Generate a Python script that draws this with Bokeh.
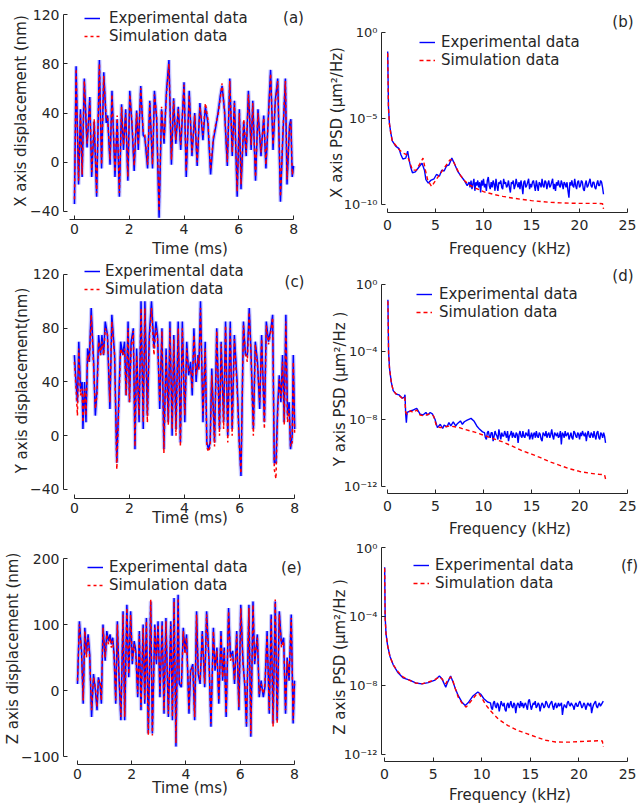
from bokeh.plotting import figure
from bokeh.layouts import row, column
from bokeh.models import Range1d, FixedTicker, Legend, LegendItem, Label, CustomJSTickFormatter
from bokeh.embed import file_html
from bokeh.resources import INLINE

# ---------------- time-domain data (ms, nm) ----------------
t_x = [0.0,0.06,0.15,0.22,0.28,0.36,0.46,0.56,0.63,0.72,0.81,0.91,0.99,1.07,1.16,1.21,1.30,1.37,1.48,1.56,
       1.64,1.72,1.79,1.87,1.95,2.02,2.10,2.18,2.27,2.33,2.42,2.51,2.57,2.67,2.75,2.85,2.92,3.00,3.09,3.18,
       3.27,3.36,3.45,3.54,3.62,3.70,3.79,3.88,4.00,4.08,4.19,4.29,4.39,4.48,4.58,4.69,4.78,4.87,4.97,5.07,
       5.15,5.24,5.33,5.39,5.48,5.58,5.67,5.76,5.84,5.94,6.02,6.08,6.18,6.27,6.35,6.45,6.51,6.61,6.70,6.81,
       6.91,6.99,7.09,7.16,7.25,7.33,7.42,7.52,7.61,7.70,7.76,7.85,7.90,7.95,8.0]
x_exp = [-34,78,-18,43,-12,68,12,53,-12,33,-28,83,-5,73,32,38,-2,58,-12,35,-28,47,10,43,-15,58,30,-7,42,10,
         62,22,20,-5,50,-5,58,35,-45,43,15,58,83,-2,52,15,45,10,65,-12,58,5,40,-3,48,18,45,32,-10,18,
         28,40,55,62,42,-3,68,5,50,-28,43,-22,33,5,58,10,50,-15,43,5,38,-5,43,75,10,50,68,-32,22,68,
         -18,30,35,-12,-3]
x_sim = [-30,76,-15,40,-10,66,15,50,-8,35,-25,80,-2,70,35,36,2,55,-8,38,-25,45,14,40,-12,55,33,-3,40,14,
         60,25,22,-2,48,-2,55,38,-40,45,18,55,80,2,50,18,43,14,63,-8,55,8,38,0,45,22,48,35,-6,20,
         30,38,53,64,40,0,66,8,48,-24,40,-18,35,8,55,14,48,-12,40,8,36,-2,40,72,14,48,66,-28,25,66,
         -14,28,33,-10,-5]

t_y = [0.0,0.06,0.11,0.16,0.22,0.28,0.31,0.37,0.42,0.48,0.54,0.61,0.70,0.76,0.82,0.88,0.95,1.00,1.06,1.12,
       1.20,1.29,1.36,1.46,1.54,1.60,1.68,1.76,1.82,1.88,1.95,2.00,2.06,2.14,2.20,2.26,2.35,2.42,2.50,2.56,
       2.65,2.72,2.80,2.89,2.96,3.02,3.10,3.18,3.25,3.33,3.41,3.47,3.55,3.61,3.69,3.77,3.85,3.92,4.01,4.08,
       4.15,4.22,4.28,4.34,4.42,4.49,4.52,4.58,4.67,4.75,4.81,4.87,4.93,4.99,5.09,5.17,5.27,5.33,5.42,5.49,
       5.57,5.66,5.73,5.81,5.91,5.99,6.05,6.14,6.21,6.28,6.35,6.41,6.50,6.57,6.65,6.73,6.80,6.90,6.97,7.05,
       7.14,7.20,7.26,7.32,7.38,7.44,7.50,7.56,7.62,7.68,7.74,7.80,7.85,7.91,7.95,8.0]
y_exp = [60,40,25,70,35,40,5,40,10,65,55,95,55,15,35,75,60,75,60,85,75,20,90,60,-20,20,70,60,70,30,
         85,25,70,80,-10,65,10,100,5,100,15,75,100,65,85,75,20,80,-10,65,10,85,0,75,5,85,-5,85,10,70,
         45,55,30,80,40,60,50,100,10,70,-5,-10,-5,50,-5,80,5,70,10,85,0,85,5,75,40,-5,-30,85,60,60,
         95,65,5,70,55,20,75,10,85,70,80,90,-20,-20,20,45,25,60,10,90,15,25,-10,0,60,5]
y_sim = [55,35,15,65,30,35,10,35,15,60,55,90,50,20,30,70,60,70,60,80,75,25,85,60,-25,15,65,60,65,30,
         80,25,65,78,-8,60,15,95,10,95,10,70,95,60,80,72,25,78,-13,60,8,80,5,72,0,80,-8,80,15,65,
         48,50,35,75,45,58,48,95,15,65,-8,-12,-8,45,-8,78,0,68,5,82,-5,80,0,72,35,-8,-28,82,62,55,
         92,62,0,68,52,25,72,5,82,68,78,88,-25,-32,15,42,28,55,8,85,10,20,-8,-5,55,0]

t_z = [0.0,0.07,0.15,0.21,0.27,0.33,0.39,0.45,0.52,0.59,0.66,0.72,0.77,0.83,0.88,0.94,1.02,1.08,1.14,1.20,
       1.25,1.30,1.35,1.41,1.47,1.53,1.60,1.68,1.74,1.82,1.89,1.96,2.02,2.09,2.15,2.22,2.28,2.34,2.42,2.48,
       2.54,2.61,2.70,2.76,2.85,2.91,2.97,3.04,3.12,3.19,3.26,3.35,3.44,3.50,3.56,3.63,3.71,3.75,3.83,3.90,
       3.96,4.02,4.11,4.17,4.25,4.32,4.39,4.45,4.52,4.60,4.69,4.76,4.85,4.92,5.01,5.07,5.14,5.21,5.29,5.35,
       5.41,5.48,5.57,5.64,5.72,5.79,5.87,5.95,6.02,6.10,6.17,6.23,6.32,6.39,6.47,6.53,6.63,6.70,6.77,6.85,
       6.91,6.99,7.07,7.14,7.21,7.29,7.36,7.44,7.52,7.60,7.67,7.73,7.80,7.88,7.95,8.0]
z_exp = [10,105,60,-20,95,55,85,55,-40,25,0,-30,20,10,-20,100,45,90,75,85,70,80,55,-20,105,20,-45,120,-45,130,
         20,120,40,75,60,-10,90,-30,100,-20,110,-65,135,-65,100,40,105,-10,105,-35,110,-40,105,-45,140,-85,145,10,5,95,
         60,85,-35,30,40,-45,120,25,10,90,5,120,45,-55,95,30,65,-20,90,15,65,-40,125,50,60,10,90,-30,130,45,
         5,-55,130,-70,135,40,85,-10,15,-10,5,90,-35,115,-50,135,-45,120,70,80,-35,50,15,115,-50,15]
z_sim = [15,100,55,-15,90,50,80,50,-30,20,5,-25,15,15,-15,95,50,85,70,80,65,75,50,-15,100,25,-40,115,-40,125,
         25,115,45,70,55,-5,85,-25,95,-15,105,-68,138,-68,95,45,100,-5,100,-30,105,-35,100,-40,135,-80,140,15,10,90,
         55,80,-30,35,35,-40,115,30,15,85,10,115,40,-50,90,35,60,-15,85,20,60,-35,120,45,55,15,85,-25,125,40,
         10,-50,125,-65,130,45,80,-5,10,-5,10,85,-30,110,-55,138,-50,115,65,75,-30,45,20,110,-45,10]

# ---------------- PSD data (kHz, log10 of um^2/Hz) ----------------
fx_exp = [0.02,0.1,0.2,0.35,0.5,0.85,1.2,1.4,1.6,1.9,2.1,2.25,2.4,2.6,2.9,3.3,3.6,3.85,4.0,4.25,
          4.5,4.85,5.1,5.4,5.65,5.9,6.15,6.4,6.7,6.95,7.3,7.6,8.0,8.3,
          8.5,8.6,8.7,8.8,8.9,9.0,9.1,9.2,9.3,9.4,
          9.5,9.6,9.7,9.8,9.9,10.0,10.1,10.2,10.3,10.4,
          10.5,10.6,10.7,10.8,10.9,11.0,11.1,11.2,11.3,11.4,
          11.5,11.6,11.7,11.8,11.9,12.0,12.1,12.2,12.3,12.4,
          12.5,12.6,12.7,12.8,12.9,13.0,13.1,13.2,13.3,13.4,
          13.5,13.6,13.7,13.8,13.9,14.0,14.1,14.2,14.3,14.4,
          14.5,14.6,14.7,14.8,14.9,15.0,15.1,15.2,15.3,15.4,
          15.5,15.6,15.7,15.8,15.9,16.0,16.1,16.2,16.3,16.4,
          16.5,16.6,16.7,16.8,16.9,17.0,17.1,17.2,17.3,17.4,
          17.5,17.6,17.7,17.8,17.9,18.0,18.1,18.2,18.3,18.4,
          18.5,18.6,18.7,18.8,18.9,19.0,19.1,19.2,19.3,19.4,
          19.5,19.6,19.7,19.8,19.9,20.0,20.1,20.2,20.3,20.4,
          20.5,20.6,20.7,20.8,20.9,21.0,21.1,21.2,21.3,21.4,
          21.5,21.6,21.7,21.8,21.9,22.0,22.1,22.2,22.3,22.4,
          22.5]
lx_exp = [-1.1,-4.3,-5.3,-5.85,-6.3,-6.6,-6.75,-7.1,-7.35,-7.3,-6.9,-7.4,-7.8,-8.15,-8.1,-7.8,-7.6,-8.0,-8.55,-8.75,
          -8.6,-8.5,-8.25,-8.35,-8.0,-8.05,-7.75,-7.7,-7.3,-7.6,-8.05,-8.3,-8.6,-8.9,
          -8.7,-9.0,-8.6,-9.1,-8.8,-8.5,-9.2,-8.7,-8.9,-8.6,
          -9.0,-8.7,-9.3,-8.6,-8.9,-8.5,-9.0,-8.8,-9.2,-8.6,
          -8.4,-8.9,-9.1,-8.7,-9.0,-8.6,-8.8,-9.2,-8.5,-8.9,
          -9.2,-8.7,-8.8,-8.6,-9.0,-9.1,-8.5,-8.8,-8.7,-9.0,
          -8.9,-8.6,-9.0,-9.3,-8.7,-8.8,-8.6,-9.1,-8.9,-8.5,
          -8.8,-9.0,-8.7,-9.1,-8.6,-8.9,-9.4,-8.7,-8.6,-9.0,
          -8.9,-8.7,-8.5,-9.1,-8.8,-9.0,-8.7,-8.6,-8.9,-9.2,
          -8.6,-8.9,-9.2,-8.7,-8.8,-9.0,-8.5,-8.9,-9.0,-8.6,
          -8.7,-9.1,-8.8,-8.6,-9.0,-8.9,-8.7,-8.5,-9.1,-8.8,
          -9.2,-8.7,-8.9,-8.6,-8.9,-9.0,-8.6,-8.8,-9.1,-8.7,
          -8.8,-9.0,-8.7,-9.2,-9.6,-8.7,-8.9,-8.6,-8.9,-9.0,
          -8.5,-8.9,-9.1,-8.7,-8.6,-9.0,-8.9,-8.6,-8.7,-9.1,
          -9.2,-8.8,-8.6,-9.0,-8.9,-8.7,-8.5,-8.9,-9.0,-8.7,
          -8.7,-9.0,-9.1,-8.8,-8.6,-8.9,-8.9,-8.6,-8.7,-9.0,
          -9.4]
fx_sim = [0.02,0.1,0.2,0.35,0.5,0.85,1.2,1.6,2.0,2.3,2.6,3.0,3.4,3.7,3.95,4.2,4.6,5.0,5.5,6.0,
          6.5,6.8,7.2,7.6,8.0,8.5,9.0,10.0,11.0,12.0,13.0,14.0,15.0,16.0,17.0,18.0,19.0,20.0,21.0,22.0,22.4,22.5]
lx_sim = [-1.2,-4.4,-5.3,-5.9,-6.3,-6.55,-6.8,-7.0,-7.1,-7.5,-8.0,-8.0,-7.6,-7.3,-8.0,-8.6,-8.95,-8.6,-8.2,-7.8,
          -7.4,-7.4,-7.9,-8.3,-8.6,-8.85,-9.0,-9.25,-9.4,-9.52,-9.62,-9.7,-9.77,-9.82,-9.87,-9.9,-9.92,-9.93,-9.93,-9.93,-9.95,-10.25]

fy_exp = [0.05,0.12,0.22,0.4,0.6,0.9,1.2,1.55,1.75,1.83,1.9,1.97,2.05,2.4,2.7,3.05,3.4,3.7,4.0,4.2,
          4.45,4.7,4.95,5.2,5.5,5.75,5.9,6.2,6.4,6.6,6.85,7.1,7.3,7.6,7.8,8.0,8.3,8.7,9.0,9.3,9.6,9.9,
          10.1,10.2,10.3,10.4,10.5,10.6,10.7,10.8,10.9,11.0,
          11.1,11.2,11.3,11.4,11.5,11.6,11.7,11.8,11.9,12.0,
          12.1,12.2,12.3,12.4,12.5,12.6,12.7,12.8,12.9,13.0,
          13.1,13.2,13.3,13.4,13.5,13.6,13.7,13.8,13.9,14.0,
          14.1,14.2,14.3,14.4,14.5,14.6,14.7,14.8,14.9,15.0,
          15.1,15.2,15.3,15.4,15.5,15.6,15.7,15.8,15.9,16.0,
          16.1,16.2,16.3,16.4,16.5,16.6,16.7,16.8,16.9,17.0,
          17.1,17.2,17.3,17.4,17.5,17.6,17.7,17.8,17.9,18.0,
          18.1,18.2,18.3,18.4,18.5,18.6,18.7,18.8,18.9,19.0,
          19.1,19.2,19.3,19.4,19.5,19.6,19.7,19.8,19.9,20.0,
          20.1,20.2,20.3,20.4,20.5,20.6,20.7,20.8,20.9,21.0,
          21.1,21.2,21.3,21.4,21.5,21.6,21.7,21.8,21.9,22.0,
          22.1,22.2,22.3,22.4,22.5,22.6,22.7]
ly_exp = [-0.9,-4.0,-5.0,-5.8,-6.3,-6.5,-6.55,-6.75,-6.7,-6.55,-7.7,-8.2,-7.6,-7.5,-7.45,-7.35,-7.7,-7.75,-7.6,-7.75,
          -7.6,-7.7,-8.0,-8.5,-8.3,-8.55,-8.35,-8.45,-8.2,-8.4,-8.15,-8.4,-8.25,-8.1,-8.3,-8.15,-8.05,-7.95,-8.1,-8.4,-8.6,-8.75,
          -8.8,-9.1,-9.2,-8.8,-8.7,-9.0,-9.1,-8.8,-8.8,-9.3,
          -9.0,-8.7,-8.9,-9.0,-9.2,-8.6,-8.9,-9.2,-8.8,-9.0,
          -9.0,-8.7,-8.9,-9.1,-8.7,-9.3,-9.0,-8.9,-8.7,-9.1,
          -8.8,-9.0,-9.1,-8.8,-8.9,-9.4,-8.9,-8.7,-9.0,-9.1,
          -8.7,-9.0,-9.1,-8.8,-8.9,-9.0,-8.6,-9.2,-9.0,-8.8,
          -9.2,-8.9,-8.8,-9.1,-8.7,-9.0,-9.1,-8.8,-8.9,-9.2,
          -9.3,-8.8,-8.9,-9.0,-8.7,-9.1,-8.9,-8.8,-9.1,-8.9,
          -8.6,-9.0,-9.2,-8.8,-8.9,-9.0,-8.8,-9.1,-9.0,-8.7,
          -9.5,-8.8,-8.9,-9.1,-8.7,-9.0,-8.9,-8.8,-9.2,-9.0,
          -8.8,-9.1,-9.2,-8.7,-8.8,-9.0,-9.1,-8.8,-8.9,-9.2,
          -8.8,-9.0,-8.7,-8.9,-9.0,-8.8,-9.3,-8.9,-8.7,-9.0,
          -9.1,-8.8,-8.9,-9.1,-8.7,-9.0,-9.2,-8.8,-8.7,-9.1,
          -9.2,-8.8,-8.9,-9.1,-8.8,-9.0,-9.4]
fy_sim = [0.05,0.12,0.22,0.4,0.6,0.9,1.2,1.55,1.8,1.9,2.05,2.4,2.7,3.05,3.4,3.8,4.3,4.8,5.1,5.5,
          6.0,6.5,7.0,7.5,8.0,9.0,10.0,11.0,12.0,13.0,14.0,15.0,16.0,17.0,18.0,19.0,20.0,21.0,22.0,22.6,22.7]
ly_sim = [-1.0,-4.1,-5.0,-5.8,-6.3,-6.5,-6.6,-6.75,-6.65,-7.6,-7.7,-7.5,-7.6,-7.45,-7.75,-7.8,-7.7,-7.8,-8.4,-8.5,
          -8.45,-8.4,-8.45,-8.5,-8.6,-8.75,-8.95,-9.15,-9.35,-9.6,-9.87,-10.07,-10.3,-10.55,-10.75,-10.95,-11.1,-11.2,-11.27,-11.3,-11.55]

fz_exp = [0.02,0.07,0.16,0.33,0.56,0.9,1.4,1.9,2.6,3.2,3.85,4.5,5.2,5.65,5.9,6.3,6.5,6.8,7.05,7.3,
          7.6,7.95,8.3,8.6,9.1,9.6,9.9,10.2,10.6,
          10.9,11.0,11.1,11.2,11.3,11.4,11.5,11.6,11.7,11.8,
          11.9,12.0,12.1,12.2,12.3,12.4,12.5,12.6,12.7,12.8,
          12.9,13.0,13.1,13.2,13.3,13.4,13.5,13.6,13.7,13.8,
          13.9,14.0,14.1,14.2,14.3,14.4,14.5,14.6,14.7,14.8,
          14.9,15.0,15.1,15.2,15.3,15.4,15.5,15.6,15.7,15.8,
          15.9,16.0,16.1,16.2,16.3,16.4,16.5,16.6,16.7,16.8,
          16.9,17.0,17.1,17.2,17.3,17.4,17.5,17.6,17.7,17.8,
          17.9,18.0,18.1,18.2,18.3,18.4,18.5,18.6,18.7,18.8,
          18.9,19.0,19.1,19.2,19.3,19.4,19.5,19.6,19.7,19.8,
          19.9,20.0,20.1,20.2,20.3,20.4,20.5,20.6,20.7,20.8,
          20.9,21.0,21.1,21.2,21.3,21.4,21.5,21.6,21.7,21.8,
          21.9,22.0,22.1,22.2,22.3,22.4,22.5]
lz_exp = [-1.15,-4.0,-5.0,-5.7,-6.3,-6.8,-7.26,-7.55,-7.68,-7.85,-7.9,-7.83,-7.68,-7.45,-7.6,-8.1,-7.8,-7.45,-7.8,-8.2,
          -8.6,-8.95,-9.15,-9.0,-8.6,-8.37,-8.5,-8.75,-8.95,
          -9.0,-9.3,-9.4,-9.0,-8.9,-9.2,-9.3,-9.0,-9.1,-9.5,
          -9.2,-8.9,-9.1,-9.2,-9.0,-9.4,-9.5,-9.1,-9.0,-9.3,
          -9.1,-8.9,-9.2,-9.3,-9.0,-9.1,-9.6,-9.2,-9.0,-9.1,
          -9.3,-8.9,-9.2,-9.0,-9.3,-9.1,-9.0,-9.2,-9.4,-8.9,
          -8.8,-9.1,-9.4,-9.2,-9.0,-9.1,-8.9,-9.3,-9.2,-9.0,
          -9.1,-9.5,-9.2,-9.0,-9.1,-9.3,-9.2,-8.9,-9.0,-9.2,
          -9.3,-9.1,-9.0,-8.9,-9.2,-9.4,-9.1,-9.0,-9.3,-9.2,
          -9.0,-9.2,-9.1,-9.0,-9.7,-9.3,-9.1,-9.2,-9.3,-9.0,
          -8.9,-9.1,-9.2,-9.0,-9.1,-9.2,-9.4,-9.1,-9.0,-9.2,
          -9.2,-9.0,-8.9,-9.1,-9.3,-9.2,-9.0,-9.1,-9.4,-9.2,
          -9.0,-9.1,-9.2,-9.0,-9.6,-9.3,-9.1,-9.0,-8.9,-9.2,
          -9.3,-9.1,-9.0,-9.2,-9.1,-9.0,-8.9]
fz_sim = [0.02,0.07,0.16,0.33,0.56,0.9,1.4,1.9,2.6,3.2,3.85,4.5,5.2,5.65,5.9,6.3,6.5,6.8,7.05,7.3,
          7.6,7.95,8.4,8.9,9.4,9.7,10.0,10.4,10.9,11.7,12.7,13.7,14.7,15.65,16.6,17.6,18.9,20.2,21.9,22.4,22.5]
lz_sim = [-1.2,-4.1,-5.0,-5.7,-6.3,-6.8,-7.2,-7.5,-7.7,-7.85,-7.9,-7.8,-7.65,-7.5,-7.6,-7.9,-7.7,-7.5,-7.75,-8.2,
          -8.7,-9.0,-9.25,-8.9,-8.55,-8.45,-8.7,-9.1,-9.46,-9.94,-10.32,-10.6,-10.8,-10.99,-11.17,-11.27,-11.28,-11.24,-11.2,-11.21,-11.56]

# ---------------- ticks & labels ----------------
time_ticks = [0, 2, 4, 6, 8]
disp_ticks_xy = [-40, 0, 40, 80, 120]
disp_ticks_z = [-100, 0, 100, 200]
freq_ticks = [0, 5, 10, 15, 20, 25]
psd_ticks_x = [1e-10, 1e-5, 1.0]
psd_labels_x = ["10\u207b\u00b9\u2070", "10\u207b\u2075", "10\u2070"]
psd_ticks_yz = [1e-12, 1e-8, 1e-4, 1.0]
psd_labels_yz = ["10\u207b\u00b9\u00b2", "10\u207b\u2078", "10\u207b\u2074", "10\u2070"]

legend_labels = ["Experimental data", "Simulation data"]

FONT = "DejaVu Sans"
TXT = "#262626"
BLUE = "#0000ff"
RED = "#ff0000"
HALO = "#8080ff"

LOG_FMT_CODE = """
const lt = Math.log10(tick);
for (let i = 0; i < tick_vals.length; i++) {
  if (Math.abs(Math.log10(tick_vals[i]) - lt) < 1e-6) { return tick_text[i]; }
}
return "";
"""


def make_fig(w, h, bl, br, bt, bb, xr, yr, log=False):
    p = figure(width=w, height=h, x_range=Range1d(*xr), y_range=Range1d(*yr),
               y_axis_type="log" if log else "linear",
               output_backend="svg", toolbar_location=None,
               min_border_left=bl, min_border_right=br, min_border_top=bt, min_border_bottom=bb)
    p.grid.visible = False
    p.outline_line_color = None
    p.background_fill_color = "white"
    for ax in (p.xaxis[0], p.yaxis[0]):
        ax.axis_line_color = TXT
        ax.major_tick_line_color = TXT
        ax.major_tick_in = 4
        ax.major_tick_out = 0
        ax.minor_tick_line_color = None
        ax.major_label_text_font = FONT
        ax.major_label_text_font_size = "14px"
        ax.major_label_text_color = TXT
        ax.axis_label_text_font = FONT
        ax.axis_label_text_font_size = "15px"
        ax.axis_label_text_font_style = "normal"
        ax.axis_label_text_color = TXT
    return p


def add_legend(p, renderers, vx, vy, standoff):
    items = [LegendItem(label=lab, renderers=[r]) for lab, r in zip(legend_labels, renderers)]
    lg = Legend(items=items, location=(vx, vy), orientation="vertical",
                background_fill_alpha=0, border_line_color=None, padding=0, margin=0,
                spacing=0, glyph_width=16, glyph_height=10, label_height=10,
                label_standoff=standoff, label_text_font=FONT, label_text_font_size="15px",
                label_text_color=TXT)
    p.add_layout(lg)


def add_tag(p, text, x, y):
    p.add_layout(Label(x=x, y=y, x_units="screen", y_units="screen", text=text,
                       text_align="center", text_baseline="middle", text_font=FONT,
                       text_font_size="15px", text_color=TXT))


def title_tag(p, text, standoff, offset):
    p.title.text = text
    p.title.align = "right"
    p.title.text_font = FONT
    p.title.text_font_size = "15px"
    p.title.text_font_style = "normal"
    p.title.text_color = TXT
    p.title.standoff = standoff
    p.title.offset = offset


def time_panel(w, h, bl, br, bt, bb, xr, yr, yticks, xbounds, t, e, s, ylabel, xlab_so, ylab_so):
    p = make_fig(w, h, bl, br, bt, bb, xr, yr)
    p.line(t, e, line_color=HALO, line_width=4, line_alpha=0.45)
    r1 = p.line(t, e, line_color=BLUE, line_width=1.5)
    r2 = p.line(t, s, line_color=RED, line_width=1.5, line_dash="3 3")
    p.xaxis.ticker = FixedTicker(ticks=time_ticks, minor_ticks=[])
    p.yaxis.ticker = FixedTicker(ticks=yticks, minor_ticks=[])
    p.xaxis.bounds = xbounds
    p.yaxis.bounds = (yticks[0], yticks[-1])
    p.xaxis.axis_label = "Time (ms)"
    p.yaxis.axis_label = ylabel
    p.xaxis.major_label_standoff = 4
    p.xaxis.axis_label_standoff = xlab_so
    p.yaxis.major_label_standoff = 4
    p.yaxis.axis_label_standoff = ylab_so
    return p, r1, r2


def psd_panel(w, h, bl, br, bt, bb, xr, yr, yticks, ylabels, fe, le, fs, ls, ylabel, xlab_so, ylab_so):
    p = make_fig(w, h, bl, br, bt, bb, xr, yr, log=True)
    r1 = p.line(fe, [10 ** v for v in le], line_color=BLUE, line_width=1.4)
    r2 = p.line(fs, [10 ** v for v in ls], line_color=RED, line_width=1.4, line_dash="4 3")
    p.xaxis.ticker = FixedTicker(ticks=freq_ticks, minor_ticks=[])
    p.yaxis.ticker = FixedTicker(ticks=yticks, minor_ticks=[])
    p.yaxis.formatter = CustomJSTickFormatter(args=dict(tick_vals=yticks, tick_text=ylabels),
                                              code=LOG_FMT_CODE)
    p.yaxis.major_label_text_font_size = "13px"
    p.xaxis.bounds = (0, 25)
    p.yaxis.bounds = (yticks[0], yticks[-1])
    p.xaxis.axis_label = "Frequency (kHz)"
    p.yaxis.axis_label = ylabel
    p.xaxis.major_label_standoff = 7
    p.xaxis.axis_label_standoff = xlab_so
    p.yaxis.major_label_standoff = 4
    p.yaxis.axis_label_standoff = ylab_so
    return p, r1, r2


# (a)  canvas y 0..260
pa, r1, r2 = time_panel(320, 260, 62, 4, 2, 41, (-0.4, 8.836), (-46.5, 129.75), disp_ticks_xy, (-0.18, 8),
                        t_x, x_exp, x_sim, "X axis displacement (nm)", 3, -3)
add_legend(pa, [r1, r2], 21, 174, 9)
add_tag(pa, "(a)", 230, 202)

# (c)  canvas y 260..530
pc, r1, r2 = time_panel(320, 270, 61, 4, 2, 32, (-0.396, 8.793), (-46.7, 128.93), disp_ticks_xy, (0, 8),
                        t_y, y_exp, y_sim, "Y axis displacement(nm)", -7, -4)
add_legend(pc, [r1, r2], 21, 200, 5)
add_tag(pc, "(c)", 231, 217)

# (e)  canvas y 530..806
pe, r1, r2 = time_panel(320, 276, 63, 4, 2, 42, (-0.516, 8.811), (-112.1, 239.4), disp_ticks_z, (0, 8),
                        t_z, z_exp, z_sim, "Z axis displacement (nm)", -3, -4)
add_legend(pe, [r1, r2], 24, 170, 6)
add_tag(pe, "(e)", 228, 197)

# (b)  canvas y 0..260, frame 32..213
pb, r1, r2 = psd_panel(320, 260, 61, 2, 32, 47, (-0.625, 26.146), (1e-10 / 10 ** 0.46, 1.0),
                       psd_ticks_x, psd_labels_x, fx_exp, lx_exp, fx_sim, lx_sim,
                       "X axis PSD (\u03bcm\u00b2/Hz)", 7, -5)
add_legend(pb, [r1, r2], 38, 143, 6)
title_tag(pb, "(b)", 4, 5)

# (d)  canvas y 260..540, frame 284..497
pd_, r1, r2 = psd_panel(320, 280, 58, 2, 24, 43, (-0.617, 26.13), (1e-12 / 10 ** 0.41, 1.0),
                        psd_ticks_yz, psd_labels_yz, fy_exp, ly_exp, fy_sim, ly_sim,
                        "Y axis PSD (\u03bcm\u00b2/Hz )", 6, -8)
add_legend(pd_, [r1, r2], 35, 171.75, 7)
title_tag(pd_, "(d)", 0, 5)

# (f)  canvas y 540..806, frame 547..763
pf, r1, r2 = psd_panel(320, 266, 58, 2, 7, 43, (-0.305, 26.12), (1e-12 / 10 ** 0.4, 1.0),
                       psd_ticks_yz, psd_labels_yz, fz_exp, lz_exp, fz_sim, lz_sim,
                       "Z axis PSD  (\u03bcm\u00b2/Hz )", 4, -8)
add_legend(pf, [r1, r2], 32, 168.75, 6)
add_tag(pf, "(f)", 248, 196)

layout = row(column(pa, pc, pe), column(pb, pd_, pf))
open("out.html", "w").write(file_html(layout, INLINE))
